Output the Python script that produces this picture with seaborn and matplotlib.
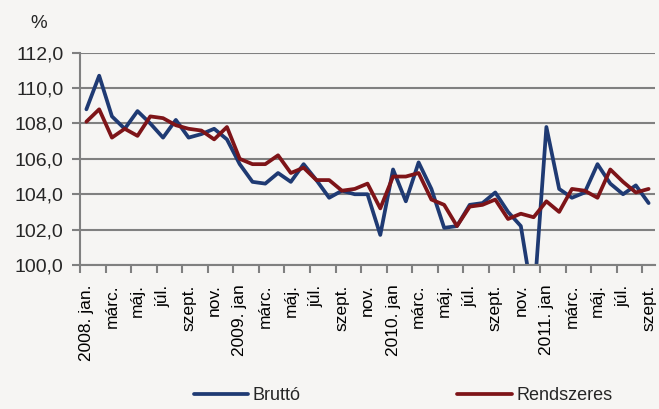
import matplotlib
matplotlib.use("Agg")
import matplotlib.pyplot as plt
from matplotlib.lines import Line2D
from matplotlib.ticker import FuncFormatter
import seaborn as sns
import pandas as pd

# ---------------- data ----------------
months = ["2008. jan.", "febr.", "márc.", "ápr.", "máj.", "jún.", "júl.", "aug.", "szept.", "okt.", "nov.", "dec.",
          "2009. jan", "febr.", "márc.", "ápr.", "máj.", "jún.", "júl.", "aug.", "szept.", "okt.", "nov.", "dec.",
          "2010. jan", "febr.", "márc.", "ápr.", "máj.", "jún.", "júl.", "aug.", "szept.", "okt.", "nov.", "dec.",
          "2011. jan", "febr.", "márc.", "ápr.", "máj.", "jún.", "júl.", "aug.", "szept."]

brutto = [108.8, 110.7, 108.4, 107.7, 108.7, 108.0, 107.2, 108.2, 107.2, 107.4, 107.7, 107.1,
          105.7, 104.7, 104.6, 105.2, 104.7, 105.7, 104.8, 103.8, 104.2, 104.0, 104.0, 101.7,
          105.4, 103.6, 105.8, 104.3, 102.1, 102.2, 103.4, 103.5, 104.1, 103.0, 102.2, 97.8,
          107.8, 104.3, 103.8, 104.1, 105.7, 104.6, 104.0, 104.5, 103.5]

rendszeres = [108.1, 108.8, 107.2, 107.7, 107.3, 108.4, 108.3, 107.9, 107.7, 107.6, 107.1, 107.8,
              106.0, 105.7, 105.7, 106.2, 105.2, 105.5, 104.8, 104.8, 104.2, 104.3, 104.6, 103.2,
              105.0, 105.0, 105.2, 103.7, 103.4, 102.2, 103.3, 103.4, 103.7, 102.6, 102.9, 102.7,
              103.6, 103.0, 104.3, 104.2, 103.8, 105.4, 104.7, 104.1, 104.3]

series_names = ["Bruttó", "Rendszeres"]
colors = ["#1f3a73", "#7e1418"]

df = pd.concat([
    pd.DataFrame({"i": range(len(months)), "value": brutto, "series": series_names[0]}),
    pd.DataFrame({"i": range(len(months)), "value": rendszeres, "series": series_names[1]}),
])

# ---------------- plot ----------------
sns.set_theme(style="white")
plt.rcParams["font.family"] = ["Liberation Sans", "DejaVu Sans"]
bg = "#f6f5f3"
grey = "#808080"

fig = plt.figure(figsize=(6.59, 4.09), dpi=100, facecolor=bg)
ax = fig.add_axes([80 / 659, 1 - 265 / 409, 575 / 659, 212.3 / 409], facecolor=bg)

sns.lineplot(data=df, x="i", y="value", hue="series", palette=colors,
             linewidth=2.7, legend=False, ax=ax)

ax.set_xlim(-0.5, len(months) - 0.5)
ax.set_ylim(100, 112)
ax.set_yticks(range(100, 113, 2))
ax.yaxis.set_major_formatter(FuncFormatter(lambda v, p: f"{v:.1f}".replace(".", ",")))
ax.grid(axis="y", color=grey, linewidth=1.5)
ax.set_axisbelow(True)

ax.set_xticks(range(0, len(months), 2))
ax.set_xticklabels(months[::2], rotation=90, va="top", ha="center")
ax.set_xticks([k - 0.5 for k in range(0, len(months), 2)], minor=True)
ax.tick_params(axis="x", which="major", length=0, pad=14, labelsize=12.5, colors="black")
ax.tick_params(axis="x", which="minor", length=6, width=1.5, color=grey, direction="out", bottom=True)
ax.tick_params(axis="y", length=6, width=1.5, color=grey, direction="out", left=True, pad=6, labelsize=14)

ax.set_xlabel("")
ax.set_ylabel("")
for s in ["top", "right"]:
    ax.spines[s].set_visible(False)
for s in ["left", "bottom"]:
    ax.spines[s].set_color(grey)
    ax.spines[s].set_linewidth(1.5)

fig.text(39 / 659, 1 - 24 / 409, "%", ha="center", va="center", fontsize=13.5)

handles = [Line2D([], [], color=c, linewidth=2.7) for c in colors]
fig.legend(handles, series_names, loc="center", bbox_to_anchor=(403 / 659, 1 - 396 / 409),
           ncol=2, frameon=False, fontsize=13, handlelength=3.0, handletextpad=0.25,
           columnspacing=8.7)

fig.savefig("out.png", dpi=100, facecolor=bg)
